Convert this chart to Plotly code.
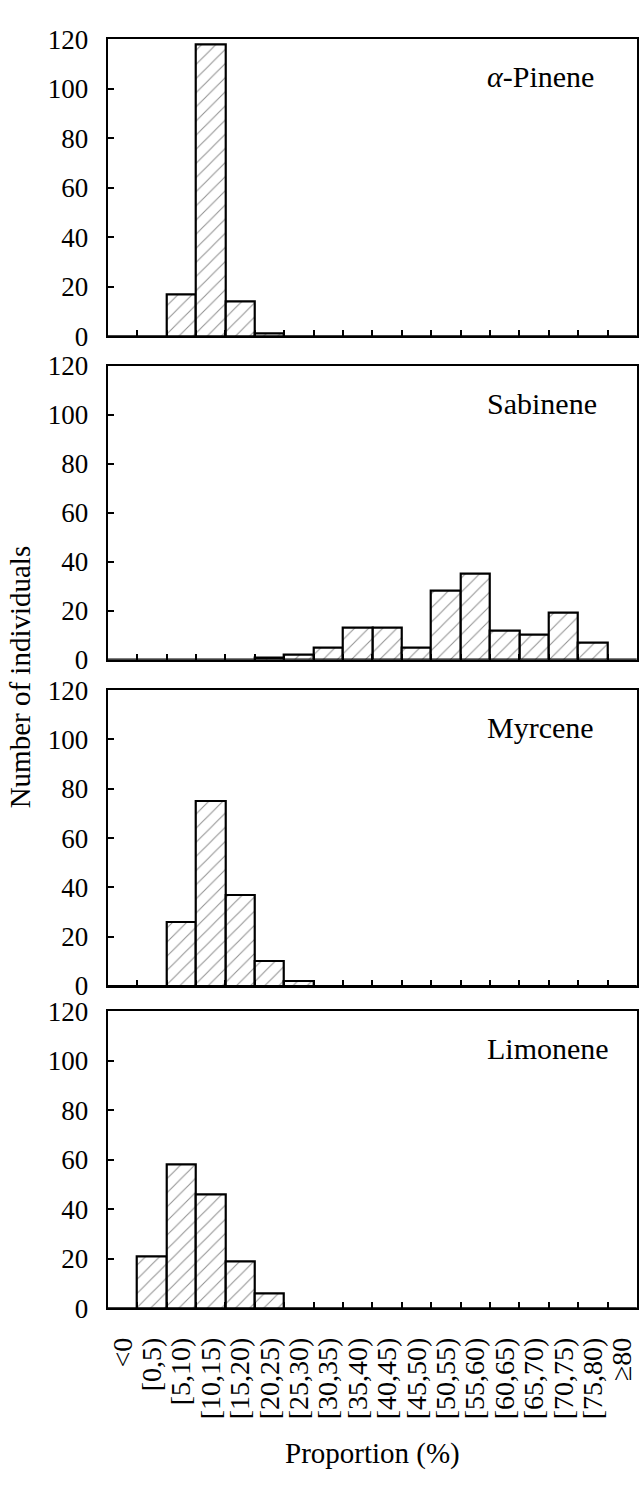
import plotly.graph_objects as go

# ---- data ----
categories = ["<0", "[0,5)", "[5,10)", "[10,15)", "[15,20)", "[20,25)", "[25,30)",
              "[30,35)", "[35,40)", "[40,45)", "[45,50)", "[50,55)", "[55,60)",
              "[60,65)", "[65,70)", "[70,75)", "[75,80)", "≥80"]
alpha_pinene = [0, 0, 17, 118, 14, 1, 0, 0, 0, 0, 0, 0, 0, 0, 0, 0, 0, 0]
sabinene     = [0, 0, 0, 0, 0, 1, 2, 5, 13, 13, 5, 28, 35, 12, 10, 19, 7, 0]
myrcene      = [0, 0, 26, 75, 37, 10, 2, 0, 0, 0, 0, 0, 0, 0, 0, 0, 0, 0]
limonene     = [0, 21, 58, 46, 19, 6, 0, 0, 0, 0, 0, 0, 0, 0, 0, 0, 0, 0]
panel_names  = ["<i>α</i>-Pinene", "Sabinene", "Myrcene", "Limonene"]
series       = [alpha_pinene, sabinene, myrcene, limonene]
y_ticks      = [0, 20, 40, 60, 80, 100, 120]

W, H = 642, 1488
FONT = "Liberation Serif"

def fx(px):
    return px / W

def fy(py):
    return 1 - py / H

x_left, x_right = 107, 637
panel_px = [(25, 328), (358, 658), (689, 991), (1017, 1320)]

fig = go.Figure()
layout = dict(
    width=W, height=H, autosize=False,
    margin=dict(l=0, r=0, t=0, b=0),
    paper_bgcolor="white", plot_bgcolor="white",
    showlegend=False, bargap=0,
    font=dict(family=FONT, color="black"),
)

annotations = []
for i, (vals, name) in enumerate(zip(series, panel_names)):
    n = i + 1
    xa = "x" if n == 1 else f"x{n}"
    ya = "y" if n == 1 else f"y{n}"
    fig.add_trace(go.Bar(
        x=categories, y=vals, xaxis=xa, yaxis=ya,
        width=1.0,
        marker=dict(
            color="white",
            line=dict(color="black", width=2.2),
            pattern=dict(shape="/", fgcolor="#222222", bgcolor="white",
                         size=10, solidity=0.1),
        ),
    ))
    top, bot = panel_px[i]
    last = (n == 4)
    layout["xaxis" if n == 1 else f"xaxis{n}"] = dict(
        domain=[fx(x_left), fx(x_right)],
        anchor=ya,
        type="category",
        categoryorder="array", categoryarray=categories,
        range=[-0.5, len(categories) - 0.5],
        tickmode="array", tickvals=categories, ticktext=categories,
        tickson="boundaries", ticks="inside", ticklen=6, tickwidth=1.5,
        tickcolor="black",
        showticklabels=last, tickangle=-90, ticklabelstandoff=16,
        tickfont=dict(family=FONT, size=28, color="black"),
        showline=True, linecolor="black", linewidth=2.2, mirror=True,
        showgrid=False, zeroline=False,
    )
    layout["yaxis" if n == 1 else f"yaxis{n}"] = dict(
        domain=[fy(bot), fy(top)],
        anchor=xa,
        range=[0, 120],
        tickmode="array", tickvals=y_ticks,
        ticks="inside", ticklen=6, tickwidth=1.5, tickcolor="black",
        ticklabelstandoff=12,
        tickfont=dict(family=FONT, size=27, color="black"),
        showline=True, linecolor="black", linewidth=2.2, mirror=True,
        showgrid=False, zeroline=False,
    )
    annotations.append(dict(
        text=name, xref="paper", yref="paper",
        x=fx(485), y=fy(top + 38), xanchor="left", yanchor="middle",
        showarrow=False, font=dict(family=FONT, size=30, color="black"),
    ))

annotations.append(dict(
    text="Number of individuals", xref="paper", yref="paper",
    x=fx(19), y=fy(675), xanchor="center", yanchor="middle",
    textangle=-90, showarrow=False,
    font=dict(family=FONT, size=29, color="black"),
))
annotations.append(dict(
    text="Proportion (%)", xref="paper", yref="paper",
    x=fx(372), y=fy(1468), xanchor="center", yanchor="middle",
    showarrow=False, font=dict(family=FONT, size=29, color="black"),
))
layout["annotations"] = annotations

fig.update_layout(**layout)
fig.write_html("out.html")
